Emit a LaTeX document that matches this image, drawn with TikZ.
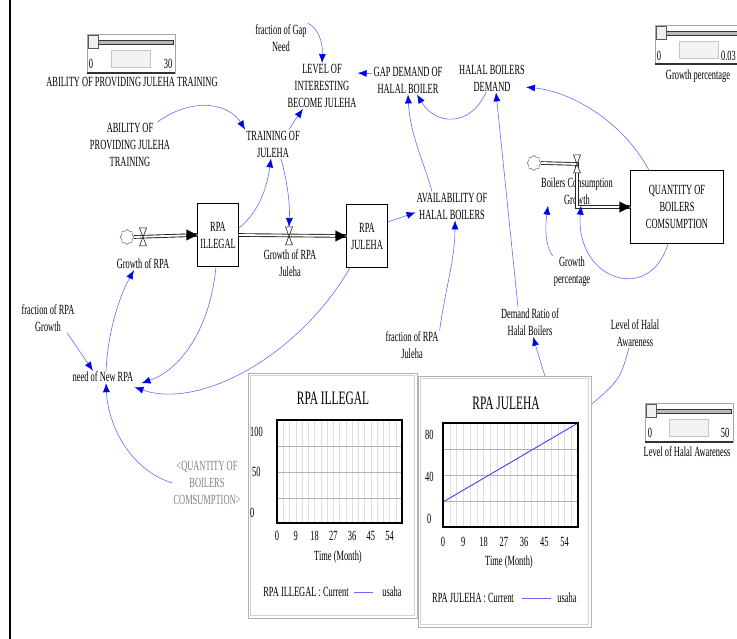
\documentclass[tikz,border=0pt]{standalone}
\usepackage{fontspec}
\setmainfont{Liberation Serif}[FakeStretch=0.6]
\usetikzlibrary{arrows.meta,shapes.symbols}

\definecolor{linkblue}{RGB}{105,105,255}
\definecolor{tipblue}{RGB}{0,0,235}
\definecolor{gridlight}{RGB}{222,222,222}
\definecolor{gridmid}{RGB}{178,178,178}

\tikzset{
  slider/.pic = {
    \draw[gray!70, fill=white] (0,0) rectangle (88,39);
    \draw[line width=1.2pt, black!80] (0,39) -- (88,39);
    \draw[gray!40!black, fill=gray!55] (11,6) rectangle (86,10);
    \draw[gray!70!black, fill=gray!12] (1,1) rectangle (11,14);
    \draw[gray!45, fill=gray!10] (24,16) rectangle (63,33);
  },
  valve/.pic = {
    \draw[fill=white, line width=0.5pt] (-3.5,-9) -- (3.5,-9) -- (-3.5,9) -- (3.5,9) -- cycle;
  }
}

\begin{document}
\begin{tikzpicture}[x=1pt, y=-1pt,
    auxvar/.style = {align=center, inner sep=1pt, font=\fontsize{14}{17}\selectfont},
    stock/.style = {draw, fill=white, align=center, inner sep=1pt, minimum width=41pt, minimum height=63pt, font=\fontsize{14}{17}\selectfont},
    link/.style = {draw=linkblue, line width=0.6pt, -{Latex[length=9pt, width=7pt, color=tipblue]}},
    pipe/.style = {draw=black!85, double=white, double distance=1.8pt, line width=0.9pt},
    pipehead/.style = {-{Triangle[length=11pt, width=11pt]}, line width=0.4pt},
    cloudy/.style = {cloud, draw=gray!60!black, fill=white, cloud puffs=8, aspect=1, minimum width=14pt, minimum height=15pt, inner sep=0pt},
    sliderlabel/.style = {font=\fontsize{14}{16}\selectfont, inner sep=1pt},
    gframe/.style = {draw=gray!60, line width=0.8pt, fill=white},
    gtext/.style = {font=\fontsize{14}{16}\selectfont, inner sep=1pt},
    gtitle/.style = {font=\fontsize{19}{22}\selectfont, inner sep=1pt}
  ]
  \useasboundingbox (0,0) rectangle (737,639);
  \draw[line width=1.2pt] (10,0) -- (10,639);

  % sliders
  \pic at (87,34) {slider};
  \node[sliderlabel] (s1lo) at (91,64) {0};
  \node[sliderlabel] (s1hi) at (168,64) {30};
  \node[sliderlabel] (s1name) at (132,82) {ABILITY OF PROVIDING JULEHA TRAINING};
  \pic at (655,25) {slider};
  \node[sliderlabel] (s2lo) at (659,56) {0};
  \node[sliderlabel, anchor=east] (s2hi) at (737,56) {0.03};
  \node[sliderlabel] (s2name) at (698,76) {Growth percentage};
  \pic at (645,403) {slider};
  \node[sliderlabel] (s3lo) at (650,433) {0};
  \node[sliderlabel] (s3hi) at (725,433) {50};
  \node[sliderlabel] (s3name) at (687,452) {Level of Halal Awareness};

  % variables
  \node[auxvar] (fgap) at (281,38) {fraction of Gap\\Need};
  \node[auxvar] (level) at (322,86) {LEVEL OF\\INTERESTING\\BECOME JULEHA};
  \node[auxvar] (gap) at (408,80) {GAP DEMAND OF\\HALAL BOILER};
  \node[auxvar] (hbd) at (492,78) {HALAL BOILERS\\DEMAND};
  \node[auxvar] (abil) at (130,145) {ABILITY OF\\PROVIDING JULEHA\\TRAINING};
  \node[auxvar] (train) at (273,144) {TRAINING OF\\JULEHA};
  \node[stock] (rpai) at (218,235) {RPA\\ILLEGAL};
  \node[stock] (rpaj) at (367,236) {RPA\\JULEHA};
  \node[auxvar] (avail) at (452,206) {AVAILABILITY OF\\HALAL BOILERS};
  \node[stock, minimum width=93pt, minimum height=73pt] (qbc) at (677,207) {QUANTITY OF\\BOILERS\\COMSUMPTION};
  \node[auxvar] (bcg) at (577,191) {Boilers Consumption\\Growth};
  \node[auxvar] (gp) at (572,272) {Growth\\percentage};
  \node[auxvar] (gor) at (143,264) {Growth of RPA};
  \node[auxvar] (gorj) at (290,263) {Growth of RPA\\Juleha};
  \node[auxvar] (frg) at (48,318) {fraction of RPA\\Growth};
  \node[auxvar] (need) at (103,377) {need of New RPA};
  \node[auxvar, text=gray] (qbcs) at (207,483) {<QUANTITY OF\\BOILERS\\COMSUMPTION>};
  \node[auxvar] (frj) at (412,345) {fraction of RPA\\Juleha};
  \node[auxvar] (dr) at (530,322) {Demand Ratio of\\Halal Boilers};
  \node[auxvar] (lha) at (635,333) {Level of Halal\\Awareness};

  % flows
  \node[cloudy] (cl1) at (127,237) {};
  \node[cloudy] (cl2) at (534,163) {};
  \coordinate (v1) at (143,237);
  \coordinate (v2) at (289,236);
  \coordinate (v3) at (577,164);
  \draw[pipe] (cl1.east) -- (rpai.west);
  \draw[pipehead] ([xshift=-11pt]rpai.west) -- (rpai.west);
  \draw[pipe] (rpai.east) -- (rpaj.west);
  \draw[pipehead] ([xshift=-11pt]rpaj.west) -- (rpaj.west);
  \draw[pipe] (cl2.east) -- (v3) |- (qbc.west);
  \draw[pipehead] ([xshift=-11pt]qbc.west) -- (qbc.west);
  \pic at (v1) {valve};
  \pic at (v2) {valve};
  \pic at (v3) {valve};

  % links
  \draw[link] (fgap.north east) .. controls (318,28) and (323,42) .. (level.north);
  \draw[link] (gap.170) -- (level.20);
  \draw[link] ([xshift=-6pt]hbd.south) .. controls (470,128) and (435,125) .. ([xshift=9pt]gap.south);
  \draw[link] ([xshift=-20pt]avail.north) .. controls (425,165) and (410,135) .. (gap.south);
  \draw[link] ([xshift=-12pt]dr.north) -- ([xshift=4pt]hbd.south);
  \draw[link] ([xshift=-28pt]qbc.north) .. controls (625,125) and (575,92) .. (hbd.-15);
  \draw[link] (abil.40) .. controls (195,95) and (230,105) .. (train.north west);
  \draw[link] ([xshift=16pt]train.north) .. controls (295,120) .. ([xshift=-19pt]level.south);
  \draw[link] ([yshift=-25pt]rpai.north east) .. controls (255,215) and (266,195) .. ([xshift=-2pt]train.south);
  \draw[link] ([xshift=8pt]train.south) .. controls (288,185) and (290,205) .. ([yshift=9pt]v2);
  \draw[link] ([yshift=14pt]rpaj.east) -- (avail.190);
  \draw[link] (frj.north east) .. controls (445,290) and (455,260) .. ([xshift=3pt]avail.south);
  \draw[link] (gp.north west) .. controls (545,245) and (545,228) .. ([xshift=-29pt]bcg.south);
  \draw[link] ([xshift=-9pt]qbc.south) .. controls (650,305) and (575,280) .. ([xshift=4pt]bcg.south);
  \draw[link] ([xshift=19pt]frg.south) -- ([xshift=-10pt]need.north);
  \draw[link] ([xshift=3pt]need.north) .. controls (108,330) and (120,295) .. ([xshift=-9pt]gor.south);
  \draw[link] (qbcs.west) .. controls (130,470) and (108,425) .. ([xshift=3pt]need.south);
  \draw[link] ([xshift=-2pt]rpai.south) .. controls (210,330) and (180,370) .. ([xshift=7pt]need.south east);
  \draw[link] ([xshift=-17pt]rpaj.south) .. controls (300,355) and (200,410) .. ([yshift=-4pt]need.south east);
  \coordinate (hidA) at (585,410);
  \coordinate (hidB) at (550,392);
  \draw[link, -] ([xshift=-6pt]lha.south) .. controls (620,380) .. (hidA);
  \draw[link] (hidB) .. controls (543,370) .. ([xshift=3pt]dr.south);

  % graph RPA ILLEGAL
  \draw[gframe] (248,373) rectangle (417,618);
  \draw[gray!35] (250.5,375.5) rectangle (414.5,615.5);
  \foreach \i in {1,...,19} \draw[gridlight] ({277+6.25*\i},420) -- ({277+6.25*\i},523);
  \foreach \y in {446,472,498} \draw[gridmid] (277,\y) -- (402,\y);
  \draw[line width=1.4pt] (277,420) rectangle (402,523);
  \node[gtitle] (g1title) at (333,398) {RPA ILLEGAL};
  \node[gtext, anchor=west] (g1y100) at (249,432) {100};
  \node[gtext, anchor=west] (g1y50) at (251,472) {50};
  \node[gtext, anchor=west] (g1y0) at (249,513) {0};
  \foreach \t in {0,9,...,54} \node[gtext] (g1x\t) at ({277+\t*125/60},536) {\t};
  \node[gtext] (g1time) at (338,557) {Time (Month)};
  \node[gtext] (g1leg) at (306,592) {RPA ILLEGAL : Current};
  \draw[linkblue, line width=1pt] (354,592) -- (373,592);
  \node[gtext] (g1usaha) at (392,592) {usaha};

  % graph RPA JULEHA
  \draw[gframe] (418,376) rectangle (591,627);
  \draw[gray!35] (420.5,378.5) rectangle (588.5,624.5);
  \foreach \i in {1,...,19} \draw[gridlight] ({443+6.75*\i},423) -- ({443+6.75*\i},527);
  \foreach \y in {449,475,501} \draw[gridmid] (443,\y) -- (578,\y);
  \draw[blue!75, line width=0.9pt] (443,502) -- (578,423);
  \draw[line width=1.4pt] (443,423) rectangle (578,527);
  \node[gtitle] (g2title) at (506,403) {RPA JULEHA};
  \node[gtext, anchor=west] (g2y80) at (424,435) {80};
  \node[gtext, anchor=west] (g2y40) at (424,477) {40};
  \node[gtext, anchor=west] (g2y0) at (426,519) {0};
  \foreach \t in {0,9,...,54} \node[gtext] (g2x\t) at ({443+\t*135/60},542) {\t};
  \node[gtext] (g2time) at (509,562) {Time (Month)};
  \node[gtext] (g2leg) at (473,598) {RPA JULEHA : Current};
  \draw[linkblue, line width=1pt] (522,598) -- (551,598);
  \node[gtext] (g2usaha) at (567,598) {usaha};
\end{tikzpicture}
\end{document}
